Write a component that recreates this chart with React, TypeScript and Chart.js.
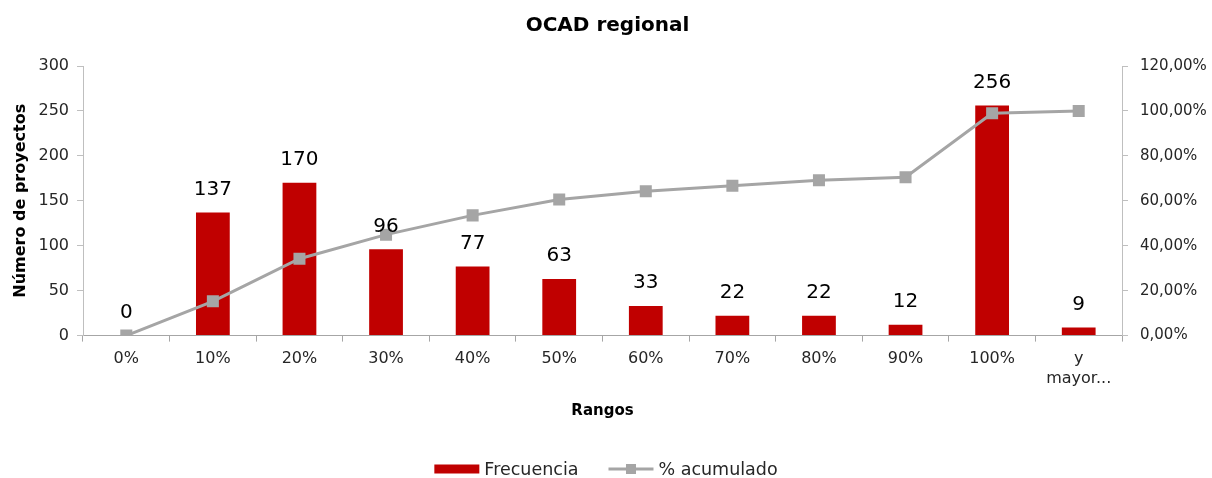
import React, { useEffect, useRef } from "react";
import { Chart, registerables } from "chart.js";

Chart.register(...registerables);

const categories: (string | string[])[] = ["0%", "10%", "20%", "30%", "40%", "50%", "60%", "70%", "80%", "90%", "100%", ["y", "mayor..."]];
const frecuencia = [0, 137, 170, 96, 77, 63, 33, 22, 22, 12, 256, 9];
const acumulado = [0, 15.27, 34.23, 44.93, 53.51, 60.54, 64.21, 66.67, 69.12, 70.46, 99.0, 100.0];

const FONT = "'DejaVu Sans', sans-serif";
const RED = "#C00000";
const GRAY = "#A5A5A5";
const TEXT = "#262626";

const barLabels = {
  id: "barLabels",
  afterDatasetsDraw(chart: any) {
    const meta = chart.getDatasetMeta(0);
    const ctx = chart.ctx;
    ctx.save();
    ctx.font = `20px ${FONT}`;
    ctx.fillStyle = "#000";
    ctx.textAlign = "center";
    ctx.textBaseline = "middle";
    meta.data.forEach((el: any, i: number) => {
      ctx.fillText(String(frecuencia[i]), el.x, el.y - 23);
    });
    ctx.restore();
  },
};

const customLegend = {
  id: "customLegend",
  afterDraw(chart: any) {
    const ctx = chart.ctx;
    ctx.save();
    ctx.font = `17.5px ${FONT}`;
    ctx.textBaseline = "middle";
    ctx.fillStyle = TEXT;
    const t1 = "Frecuencia";
    const t2 = "% acumulado";
    const w1 = ctx.measureText(t1).width;
    const w2 = ctx.measureText(t2).width;
    const sw = 45;
    const gap = 5;
    const between = 30;
    const total = sw + gap + w1 + between + sw + gap + w2;
    let x = chart.width / 2 - total / 2;
    const y = 469;
    ctx.fillStyle = RED;
    ctx.fillRect(x, y - 4.5, sw, 9);
    x += sw + gap;
    ctx.fillStyle = TEXT;
    ctx.fillText(t1, x, y + 1);
    x += w1 + between;
    ctx.strokeStyle = GRAY;
    ctx.lineWidth = 3;
    ctx.beginPath();
    ctx.moveTo(x, y);
    ctx.lineTo(x + sw, y);
    ctx.stroke();
    ctx.fillStyle = GRAY;
    ctx.fillRect(x + sw / 2 - 5, y - 5, 10, 10);
    x += sw + gap;
    ctx.fillStyle = TEXT;
    ctx.fillText(t2, x, y + 1);
    ctx.restore();
  },
};

export default function App() {
  const ref = useRef<HTMLCanvasElement>(null);
  useEffect(() => {
    if (!ref.current) return;
    const chart = new Chart(ref.current, {
      type: "bar",
      data: {
        labels: categories as any,
        datasets: [
          {
            type: "bar",
            label: "Frecuencia",
            data: frecuencia,
            backgroundColor: RED,
            yAxisID: "y",
            order: 2,
            barPercentage: 1,
            categoryPercentage: 0.39,
          },
          {
            type: "line",
            label: "% acumulado",
            data: acumulado,
            borderColor: GRAY,
            backgroundColor: GRAY,
            borderWidth: 3,
            pointStyle: "rect",
            pointRadius: 8.5,
            pointBorderWidth: 0,
            yAxisID: "y1",
            order: 1,
            tension: 0,
          } as any,
        ],
      },
      options: {
        responsive: false,
        animation: false,
        layout: { padding: { top: 3, left: 3, right: 0, bottom: 58 } },
        plugins: {
          legend: { display: false },
          tooltip: { enabled: false },
          title: {
            display: true,
            text: "OCAD regional",
            font: { family: FONT, size: 20, weight: "bold" },
            color: "#000",
            padding: { top: 11, bottom: 28 },
          },
        },
        scales: {
          x: {
            grid: { drawOnChartArea: false, drawTicks: true, tickLength: 6, color: "#A6A6A6", offset: true },
            border: { color: "#A6A6A6", width: 1 },
            ticks: { font: { family: FONT, size: 16 }, color: TEXT, padding: 8, maxRotation: 0, autoSkip: false },
            title: {
              display: true,
              text: "Rangos",
              font: { family: FONT, size: 15, weight: "bold" },
              color: "#000",
              padding: { top: 6, bottom: 0 },
            },
          },
          y: {
            position: "left",
            min: 0,
            max: 300,
            afterFit: (s: any) => { s.width = 80; },
            ticks: { stepSize: 50, font: { family: FONT, size: 16 }, color: TEXT, padding: 8 },
            grid: { drawOnChartArea: false, drawTicks: true, tickLength: 6, color: "#BFBFBF" },
            border: { color: "#BFBFBF", width: 1 },
            title: {
              display: true,
              text: "Número de proyectos",
              font: { family: FONT, size: 16, weight: "bold" },
              color: "#000",
              padding: { top: 8, bottom: 0 },
            },
          },
          y1: {
            position: "right",
            min: 0,
            max: 120,
            afterFit: (s: any) => { s.width = 90; },
            ticks: {
              stepSize: 20,
              font: { family: FONT, size: 15 },
              color: TEXT,
              padding: 12,
              callback: (v: any) => `${Number(v).toFixed(2).replace(".", ",")}%`,
            },
            grid: { drawOnChartArea: false, drawTicks: true, tickLength: 6, color: "#BFBFBF" },
            border: { color: "#BFBFBF", width: 1 },
          },
        },
      },
      plugins: [barLabels, customLegend],
    });
    return () => chart.destroy();
  }, []);
  return (
    <div style={{ position: "absolute", left: 0, top: 0, width: 1212, height: 478, background: "#fff" }}>
      <canvas ref={ref} width={1212} height={478} />
    </div>
  );
}
